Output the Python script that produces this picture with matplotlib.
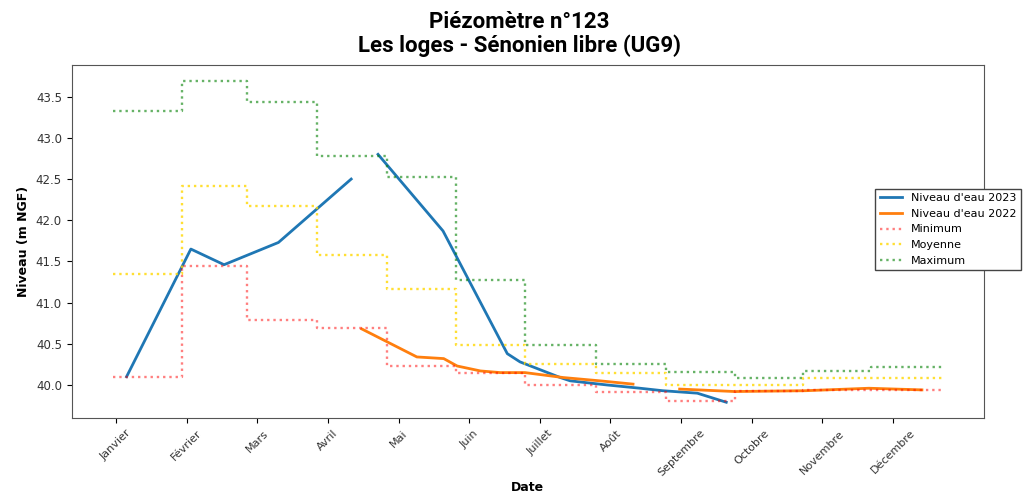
import matplotlib.pyplot as plt
import numpy as np

# mois (position décimale sur l'axe, Janvier = 0)
mois = ["Janvier", "Février", "Mars", "Avril", "Mai", "Juin", "Juillet",
        "Août", "Septembre", "Octobre", "Novembre", "Décembre"]
bornes_mois = [-0.04, 0.94, 1.85, 2.84, 3.83, 4.82, 5.79, 6.79, 7.78, 8.76, 9.72, 10.69, 11.70]

# statistiques mensuelles (m NGF)
niv_min = [40.10, 41.45, 40.79, 40.69, 40.23, 40.15, 40.00, 39.92, 39.80, 39.925, 39.94, 39.94]
niv_moy = [41.35, 42.41, 42.17, 41.58, 41.17, 40.49, 40.25, 40.14, 40.00, 40.00, 40.08, 40.09]
niv_max = [43.33, 43.69, 43.43, 42.78, 42.53, 41.28, 40.48, 40.25, 40.16, 40.09, 40.17, 40.22]

# niveau d'eau 2023 (nan = pas de mesure)
x_2023 = [0.15, 1.06, 1.53, 2.30, 3.33, 3.50, 3.71, 4.63, 5.54, 5.72, 6.29, 6.43,
          6.95, 7.42, 7.74, 8.23, 8.64]
y_2023 = [40.10, 41.65, 41.46, 41.73, 42.50, np.nan, 42.80, 41.87, 40.38, 40.28, 40.09, 40.05,
          40.00, 39.96, 39.93, 39.90, 39.79]

# niveau d'eau 2022
x_2022 = [3.48, 4.26, 4.64, 4.83, 5.16, 5.44, 5.79, 6.33, 6.85, 7.32, 7.60,
          7.98, 8.76, 9.76, 10.66, 11.41]
y_2022 = [40.68, 40.34, 40.32, 40.23, 40.17, 40.15, 40.15, 40.09, 40.05, 40.01, np.nan,
          39.95, 39.92, 39.93, 39.96, 39.94]

titre = "Piézomètre n°123\nLes loges - Sénonien libre (UG9)"

fig = plt.figure(figsize=(10.27, 5), dpi=100)
ax = fig.add_axes([0.0698, 0.1634, 0.8882, 0.7066])

ax.plot(x_2023, y_2023, color='#1f77b4', lw=2, label="Niveau d'eau 2023")
ax.plot(x_2022, y_2022, color='#ff7f0e', lw=2, label="Niveau d'eau 2022")
ax.step(bornes_mois, niv_min + [niv_min[-1]], where='post', color='red', alpha=0.5,
        ls=':', lw=1.7, label="Minimum")
ax.step(bornes_mois, niv_moy + [niv_moy[-1]], where='post', color='gold', alpha=0.8,
        ls=':', lw=1.7, label="Moyenne")
ax.step(bornes_mois, niv_max + [niv_max[-1]], where='post', color='green', alpha=0.6,
        ls=':', lw=1.7, label="Maximum")

ax.set_xticks(np.arange(len(mois)))
ax.set_xticklabels(mois, rotation=45, fontsize=8, color='#333333')
ax.tick_params(axis='y', labelsize=8.5, labelcolor='#333333')
for s in ax.spines.values():
    s.set_color('#555555')

ax.set_xlabel("Date", fontsize=9, fontweight='bold', labelpad=2)
ax.set_ylabel("Niveau (m NGF)", fontsize=9, fontweight='bold')
fig.suptitle(titre, x=0.506, y=0.978, va='top', fontsize=16, fontweight='bold',
             family='Roboto', linespacing=1.1)

leg = ax.legend(loc='upper left', bbox_to_anchor=(0.875, 0.665), fontsize=8,
                fancybox=False, edgecolor='#444444', framealpha=1)

fig.savefig("out.png", dpi=100)
